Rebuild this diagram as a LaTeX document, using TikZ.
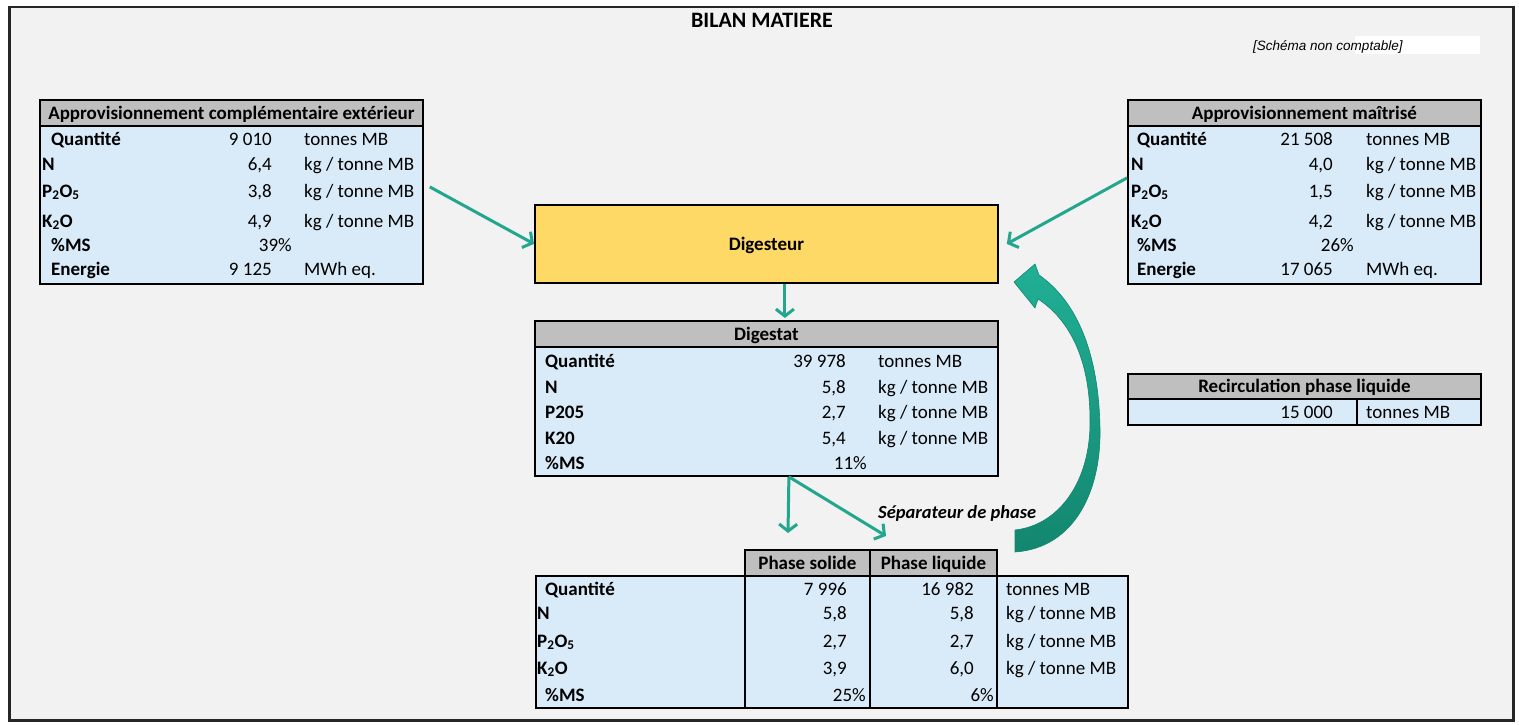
\documentclass[tikz,border=0pt]{standalone}
\usepackage{fontspec}
\setmainfont{Carlito}
\newfontfamily\notefont{Liberation Sans}
\usetikzlibrary{arrows.meta,calc}
\definecolor{bgc}{HTML}{F2F2F2}
\definecolor{bodyc}{HTML}{D9EAF8}
\definecolor{hdrc}{HTML}{BFBFBF}
\definecolor{digc}{HTML}{FFD966}
\definecolor{tealc}{HTML}{23A68E}
\definecolor{tealtop}{HTML}{20B095}
\definecolor{tealbot}{HTML}{13866F}
\begin{document}
\begin{tikzpicture}[x=1pt,y=-1pt,
  every node/.style={inner sep=0pt, font=\fontsize{19}{22}\selectfont},
  box/.style={draw=black, line width=1.8pt, fill=bodyc, anchor=north west},
  hdr/.style={draw=black, line width=1.8pt, fill=hdrc, anchor=north west,
    font=\fontsize{19}{22}\selectfont\bfseries, text height=12.5pt, text depth=0pt},
  cell/.style={draw=black, line width=1.8pt, anchor=north west},
  lab/.style={anchor=base west, font=\fontsize{19}{22}\selectfont\bfseries},
  val/.style={anchor=base east},
  unit/.style={anchor=base west},
  arr/.style={draw=tealc, line width=3pt, -{Straight Barb[length=7pt,width=18pt]}}
]
\useasboundingbox (0,0) rectangle (1519,725);
\fill[white] (0,0) rectangle (1519,725);
\node[draw=black!85, line width=2.5pt, fill=bgc, anchor=north west,
  minimum width=1504pt, minimum height=713pt] (frame) at (8,6) {};

\node[anchor=base, font=\fontsize{22}{25}\selectfont\bfseries] (title) at (762,28) {BILAN MATIERE};
\node[fill=white, anchor=north west, minimum width=125pt, minimum height=18pt] (wrect) at (1355,36) {};
\node[anchor=base west, font=\notefont\itshape\fontsize{13.5}{15}\selectfont] (note) at (1253,51) {[Schéma non comptable]};

% left box
\node[box, minimum width=383pt, minimum height=184pt] (ext) at (39,99) {};
\node[hdr, minimum width=383pt, minimum height=26pt] (exth) at (39,99) {Approvisionnement complémentaire extérieur};
\node[lab] (e1l) at (51,145) {Quantité}; \node[val] (e1v) at (272,145) {9 010}; \node[unit] (e1u) at (304,145) {tonnes MB};
\node[lab] (e2l) at (42,170) {N}; \node[val] (e2v) at (272,170) {6,4}; \node[unit] (e2u) at (304,170) {kg / tonne MB};
\node[lab] (e3l) at (42,197) {P\textsubscript{2}O\textsubscript{5}}; \node[val] (e3v) at (272,197) {3,8}; \node[unit] (e3u) at (304,197) {kg / tonne MB};
\node[lab] (e4l) at (42,227) {K\textsubscript{2}O}; \node[val] (e4v) at (272,227) {4,9}; \node[unit] (e4u) at (304,227) {kg / tonne MB};
\node[lab] (e5l) at (51,251) {\%MS}; \node[val] (e5v) at (292,251) {39\%};
\node[lab] (e6l) at (51,275) {Energie}; \node[val] (e6v) at (272,275) {9 125}; \node[unit] (e6u) at (304,275) {MWh eq.};

% right box
\node[box, minimum width=353pt, minimum height=184pt] (mai) at (1127,99) {};
\node[hdr, minimum width=353pt, minimum height=26pt] (maih) at (1127,99) {Approvisionnement maîtrisé};
\node[lab] (m1l) at (1137,145) {Quantité}; \node[val] (m1v) at (1333,145) {21 508}; \node[unit] (m1u) at (1366,145) {tonnes MB};
\node[lab] (m2l) at (1131,170) {N}; \node[val] (m2v) at (1333,170) {4,0}; \node[unit] (m2u) at (1366,170) {kg / tonne MB};
\node[lab] (m3l) at (1131,197) {P\textsubscript{2}O\textsubscript{5}}; \node[val] (m3v) at (1333,197) {1,5}; \node[unit] (m3u) at (1366,197) {kg / tonne MB};
\node[lab] (m4l) at (1131,227) {K\textsubscript{2}O}; \node[val] (m4v) at (1333,227) {4,2}; \node[unit] (m4u) at (1366,227) {kg / tonne MB};
\node[lab] (m5l) at (1137,251) {\%MS}; \node[val] (m5v) at (1354,251) {26\%};
\node[lab] (m6l) at (1137,275) {Energie}; \node[val] (m6v) at (1333,275) {17 065}; \node[unit] (m6u) at (1366,275) {MWh eq.};

% digesteur
\node[draw=black, line width=1.8pt, fill=digc, anchor=north west, minimum width=463pt, minimum height=78pt,
  font=\fontsize{19}{22}\selectfont\bfseries, text height=12.5pt, text depth=0pt] (dig) at (534,204) {Digesteur};

% digestat
\node[box, minimum width=463pt, minimum height=155pt] (dgt) at (534,320) {};
\node[hdr, minimum width=463pt, minimum height=26pt] (dgth) at (534,320) {Digestat};
\node[lab] (d1l) at (545,367) {Quantité}; \node[val] (d1v) at (846,367) {39 978}; \node[unit] (d1u) at (878,367) {tonnes MB};
\node[lab] (d2l) at (545,393) {N}; \node[val] (d2v) at (846,393) {5,8}; \node[unit] (d2u) at (878,393) {kg / tonne MB};
\node[lab] (d3l) at (545,418) {P205}; \node[val] (d3v) at (846,418) {2,7}; \node[unit] (d3u) at (878,418) {kg / tonne MB};
\node[lab] (d4l) at (545,444) {K20}; \node[val] (d4v) at (846,444) {5,4}; \node[unit] (d4u) at (878,444) {kg / tonne MB};
\node[lab] (d5l) at (545,469) {\%MS}; \node[val] (d5v) at (867,469) {11\%};

% recirculation
\node[box, minimum width=353pt, minimum height=51pt] (rec) at (1127,373) {};
\node[hdr, minimum width=353pt, minimum height=25pt] (rech) at (1127,373) {Recirculation phase liquide};
\node[cell, minimum width=124pt, minimum height=26pt] (recu) at (1356,398) {};
\node[val] (r1v) at (1333,418) {15 000}; \node[unit] (r1u) at (1366,418) {tonnes MB};

% phase table
\node[box, minimum width=592pt, minimum height=132pt] (pha) at (535,575) {};
\node[cell, minimum width=125pt, minimum height=132pt] (col1) at (744,575) {};
\node[cell, minimum width=127pt, minimum height=132pt] (col2) at (869,575) {};
\node[hdr, minimum width=125pt, minimum height=26pt] (phs) at (744,549) {Phase solide};
\node[hdr, minimum width=127pt, minimum height=26pt] (phl) at (869,549) {Phase liquide};
\node[lab] (p1l) at (545,595) {Quantité}; \node[val] (p1a) at (847,595) {7 996}; \node[val] (p1b) at (974,595) {16 982}; \node[unit] (p1u) at (1006,595) {tonnes MB};
\node[lab] (p2l) at (537,619) {N}; \node[val] (p2a) at (847,619) {5,8}; \node[val] (p2b) at (974,619) {5,8}; \node[unit] (p2u) at (1006,619) {kg / tonne MB};
\node[lab] (p3l) at (537,647) {P\textsubscript{2}O\textsubscript{5}}; \node[val] (p3a) at (847,647) {2,7}; \node[val] (p3b) at (974,647) {2,7}; \node[unit] (p3u) at (1006,647) {kg / tonne MB};
\node[lab] (p4l) at (537,674) {K\textsubscript{2}O}; \node[val] (p4a) at (847,674) {3,9}; \node[val] (p4b) at (974,674) {6,0}; \node[unit] (p4u) at (1006,674) {kg / tonne MB};
\node[lab] (p5l) at (545,701) {\%MS}; \node[val] (p5a) at (866,701) {25\%}; \node[val] (p5b) at (994,701) {6\%};

\node[anchor=base west, font=\fontsize{18.5}{22}\selectfont\bfseries\itshape] (sep) at (878,518) {Séparateur de phase};

% connectors
\draw[arr] ([xshift=6pt,yshift=5pt]ext.east) -- (dig.west);
\draw[arr] ([yshift=14pt]mai.west) -- ([xshift=8pt]dig.east);
\draw[arr] ([xshift=18.5pt]dig.south) -- ([xshift=18.5pt,yshift=2pt]dgth.north);
\coordinate (spl) at ([xshift=22.5pt]dgt.south);
\coordinate (sol) at (788,533);
\coordinate (liq) at (886,536);
\draw[arr] (spl) -- (sol);
\draw[arr] (spl) -- (liq);

% curved recirculation arrow
\shade[top color=tealtop, bottom color=tealbot, draw=tealbot, line width=0.6pt]
  (1015,552) .. controls (1075,548) and (1101,490) .. (1100,430)
  .. controls (1099,350) and (1075,300) .. (1039,275)
  -- (1035,264) -- (1014,282) -- (1035,308) -- (1038,299)
  .. controls (1070,320) and (1090,360) .. (1090,420)
  .. controls (1091,480) and (1060,525) .. (1015,530) -- cycle;
\end{tikzpicture}
\end{document}
